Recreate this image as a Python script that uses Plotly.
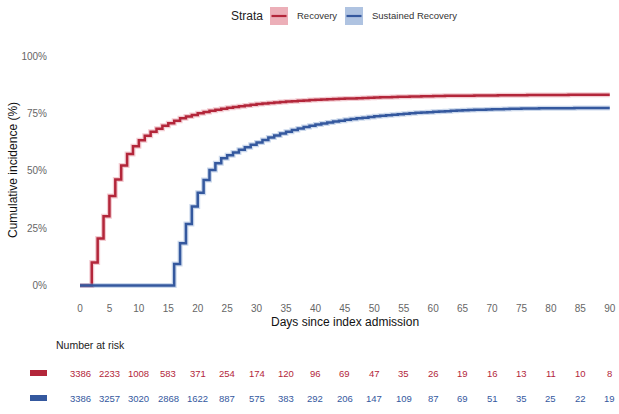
import plotly.graph_objects as go

# ---------------- data ----------------
days = list(range(0, 91))
recovery = [
    0, 0, 10.0, 20.5, 30.2, 39.0, 46.2, 52.3, 57.3, 60.7,
    63.3, 65.3, 67.0, 68.4, 69.7, 70.8, 71.9, 72.9, 73.7, 74.4,
    75.1, 75.7, 76.2, 76.7, 77.1, 77.5, 77.9, 78.2, 78.5, 78.8,
    79.1, 79.35, 79.6, 79.8, 80.0, 80.2, 80.4, 80.55, 80.7, 80.85,
    81.0, 81.1, 81.2, 81.3, 81.4, 81.5, 81.6, 81.7, 81.8, 81.9,
    82.0, 82.1, 82.15, 82.2, 82.3, 82.35, 82.4, 82.45, 82.5, 82.55,
    82.6, 82.65, 82.7, 82.7, 82.75, 82.8, 82.8, 82.85, 82.85, 82.9,
    82.9, 82.95, 82.95, 83.0, 83.0, 83.0, 83.05, 83.05, 83.05, 83.1,
    83.1, 83.1, 83.1, 83.15, 83.15, 83.15, 83.15, 83.2, 83.2, 83.2,
    83.2,
]
sustained = [
    0, 0, 0, 0, 0, 0, 0, 0, 0, 0,
    0, 0, 0, 0, 0, 0, 9.4, 18.4, 26.8, 34.4,
    40.5, 46.0, 50.4, 53.3, 55.5, 56.8, 58.0, 59.2, 60.3, 61.4,
    62.4, 63.5, 64.5, 65.4, 66.3, 67.1, 67.8, 68.5, 69.1, 69.7,
    70.2, 70.7, 71.1, 71.5, 71.9, 72.3, 72.6, 72.9, 73.2, 73.5,
    73.8, 74.0, 74.3, 74.5, 74.7, 74.9, 75.1, 75.3, 75.5, 75.6,
    75.8, 75.9, 76.0, 76.2, 76.3, 76.4, 76.5, 76.6, 76.7, 76.8,
    76.85, 76.9, 77.0, 77.05, 77.1, 77.15, 77.2, 77.2, 77.25, 77.3,
    77.3, 77.3, 77.35, 77.35, 77.4, 77.4, 77.4, 77.4, 77.45, 77.45,
    77.45,
]
risk_days = list(range(0, 91, 5))
risk_recovery = [3386, 2233, 1008, 583, 371, 254, 174, 120, 96, 69, 47, 35, 26, 19, 16, 13, 11, 10, 8]
risk_sustained = [3386, 3257, 3020, 2868, 1622, 887, 575, 383, 292, 206, 147, 109, 87, 69, 51, 35, 25, 22, 19]
series_names = ["Recovery", "Sustained Recovery"]
y_ticks = [0, 25, 50, 75, 100]
y_tick_labels = ["0%", "25%", "50%", "75%", "100%"]
x_ticks = list(range(0, 91, 5))

# ---------------- style ----------------
W, H = 619, 414
L, R, T, B = 55, 615, 40, 295
RED = "#B3263A"
BLUE = "#34589E"
RED_BAND = "rgba(220,110,125,0.35)"
BLUE_BAND = "rgba(110,145,200,0.35)"
RED_KEY = "rgba(220,110,125,0.55)"
BLUE_KEY = "rgba(110,145,200,0.55)"
FONT = "Liberation Sans, Arial, sans-serif"

x0_px, px_per_day = 80, 5.886
y0_px, px_per_pct = 285.5, 2.293
x_range = [(L - x0_px) / px_per_day, (R - x0_px) / px_per_day]
y_range = [-(B - y0_px) / px_per_pct, (y0_px - T) / px_per_pct]


def px(xp):
    return (xp - L) / (R - L)


def py(yp):
    return (B - yp) / (B - T)


fig = go.Figure()
for vals, band, col in [(recovery, RED_BAND, RED), (sustained, BLUE_BAND, BLUE)]:
    fig.add_trace(go.Scatter(x=days, y=vals, mode="lines", line=dict(color=band, width=5, shape="hv"),
                             hoverinfo="skip", showlegend=False))
    fig.add_trace(go.Scatter(x=days, y=vals, mode="lines", line=dict(color=col, width=2.5, shape="hv"),
                             showlegend=False))

ann = []
shapes = []

# legend
ann.append(dict(text="Strata", x=px(247), y=py(16), xref="paper", yref="paper", showarrow=False,
                font=dict(family=FONT, size=12, color="#222222"), xanchor="center", yanchor="middle"))
legend_items = [(270, 295, series_names[0], RED, RED_KEY), (345, 370, series_names[1], BLUE, BLUE_KEY)]
for kx, tx, name, col, band in legend_items:
    shapes.append(dict(type="rect", xref="paper", yref="paper", x0=px(kx), x1=px(kx + 18),
                       y0=py(25), y1=py(7), fillcolor=band, line=dict(width=0)))
    shapes.append(dict(type="line", xref="paper", yref="paper", x0=px(kx + 1.5), x1=px(kx + 16.5),
                       y0=py(16), y1=py(16), line=dict(color=col, width=2.2)))
    ann.append(dict(text=name, x=px(tx), y=py(16), xref="paper", yref="paper", showarrow=False,
                    font=dict(family=FONT, size=9.5, color="#333333"), xanchor="left", yanchor="middle"))

# axis titles
ann.append(dict(text="Days since index admission", x=px(345), y=py(322), xref="paper", yref="paper",
                showarrow=False, font=dict(family=FONT, size=12, color="#111111"),
                xanchor="center", yanchor="middle"))
ann.append(dict(text="Cumulative incidence (%)", x=px(13), y=py(170), xref="paper", yref="paper",
                showarrow=False, textangle=-90, font=dict(family=FONT, size=12, color="#111111"),
                xanchor="center", yanchor="middle"))

# risk table
ann.append(dict(text="Number at risk", x=px(54), y=py(345), xref="paper", yref="paper", showarrow=False,
                font=dict(family=FONT, size=10.5, color="#222222"), xanchor="left", yanchor="middle"))
for row_y, vals, col in [(373, risk_recovery, RED), (398, risk_sustained, BLUE)]:
    shapes.append(dict(type="rect", xref="paper", yref="paper", x0=px(30), x1=px(47),
                       y0=py(row_y + 3), y1=py(row_y - 3), fillcolor=col, line=dict(width=0)))
    for d, v in zip(risk_days, vals):
        ann.append(dict(text=str(v), x=d, y=py(row_y), xref="x", yref="paper", showarrow=False,
                        font=dict(family=FONT, size=9.5, color=col), xanchor="center", yanchor="middle"))

fig.update_layout(
    width=W, height=H,
    margin=dict(l=L, r=W - R, t=T, b=H - B),
    paper_bgcolor="white", plot_bgcolor="white",
    showlegend=False,
    annotations=ann, shapes=shapes,
    xaxis=dict(range=x_range, tickmode="array", tickvals=x_ticks, showgrid=False, zeroline=False,
               showline=False, ticks="", tickfont=dict(family=FONT, size=10, color="#666666"),
               ticklabelstandoff=6),
    yaxis=dict(range=y_range, tickmode="array", tickvals=y_ticks, ticktext=y_tick_labels,
               showgrid=False, zeroline=False, showline=False, ticks="",
               tickfont=dict(family=FONT, size=10, color="#666666"), ticklabelstandoff=7),
)

fig.write_html("out.html")
